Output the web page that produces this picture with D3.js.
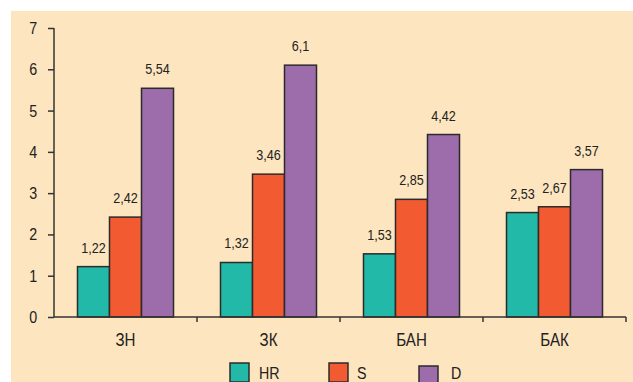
<!DOCTYPE html>
<html>
<head>
<meta charset="utf-8">
<script src="https://cdn.jsdelivr.net/npm/d3@7"></script>
<style>
  body { margin: 0; background: #fff; }
  svg text {
    font-family: "Liberation Sans", Arial, sans-serif; fill: #222;
    transform-box: fill-box; transform-origin: center; transform: scaleX(0.84);
  }
  .axis path, .axis line { stroke: #333; stroke-width: 1.5; }
</style>
</head>
<body>
<script>
// data
var categories = ["ЗН", "ЗК", "БАН", "БАК"];
var seriesNames = ["HR", "S", "D"];
var hr = [1.22, 1.32, 1.53, 2.53];
var s = [2.42, 3.46, 2.85, 2.67];
var d = [5.54, 6.1, 4.42, 3.57];
var yTicks = [0, 1, 2, 3, 4, 5, 6, 7];
var colors = ["#22b9a9", "#f25a31", "#9d6cab"];

var series = [hr, s, d];

var svg = d3.select("body").append("svg")
    .attr("width", 633)
    .attr("height", 382);

// beige panel
svg.append("rect")
    .attr("x", 11).attr("y", 11)
    .attr("width", 622).attr("height", 371)
    .attr("fill", "#fde5bf");

var margin = {top: 28, left: 54, right: 7, bottom: 65};
var width = 633 - margin.left - margin.right,
    height = 382 - margin.top - margin.bottom;

var x = d3.scaleBand().domain(categories).range([0, width]);
var x1 = d3.scaleBand().domain(seriesNames).range([0, 96]);
var y = d3.scaleLinear().domain([0, 7]).range([height, 0]);

var g = svg.append("g")
    .attr("transform", "translate(" + margin.left + "," + margin.top + ")");

var groups = g.selectAll(".grp")
    .data(categories)
    .enter().append("g")
    .attr("class", "grp")
    .attr("transform", function(c) {
        return "translate(" + (x(c) + (x.bandwidth() - 96) / 2) + ",0)";
    });

seriesNames.forEach(function(name, k) {
    groups.append("rect")
        .attr("x", x1(name))
        .attr("width", x1.bandwidth())
        .attr("y", function(c, i) { return y(series[k][i]); })
        .attr("height", function(c, i) { return height - y(series[k][i]); })
        .attr("fill", colors[k])
        .attr("stroke", "#2b2b2b")
        .attr("stroke-width", 1.5);

    groups.append("text")
        .attr("x", x1(name) + x1.bandwidth() / 2)
        .attr("y", function(c, i) { return y(series[k][i]) - 14; })
        .attr("text-anchor", "middle")
        .style("font-size", "15px")
        .text(function(c, i) { return String(series[k][i]).replace(".", ","); });
});

g.append("g")
    .attr("class", "y axis")
    .call(d3.axisLeft(y).tickValues(yTicks).tickSize(6).tickPadding(10).tickFormat(d3.format("d")))
    .call(function(a) { a.selectAll("text").style("font-size", "17px"); a.select(".domain").attr("d", "M0," + height + "V0"); });

var xa = g.append("g")
    .attr("class", "x axis")
    .attr("transform", "translate(0," + height + ")")
    .call(d3.axisBottom(x).tickSize(0).tickPadding(16));
xa.select(".domain").attr("d", "M0,0H" + width);
xa.selectAll("text").style("font-size", "18px");
// category separators
xa.selectAll(".sep")
    .data(categories)
    .enter().append("line")
    .attr("x1", function(c) { return x(c) + x.bandwidth(); })
    .attr("x2", function(c) { return x(c) + x.bandwidth(); })
    .attr("y1", 0).attr("y2", 5)
    .attr("stroke", "#333").attr("stroke-width", 1.5);

// legend
var legendX = [230, 329, 419];
var legendY = [363, 363, 366];
var lg = svg.selectAll(".lg")
    .data(seriesNames)
    .enter().append("g")
    .attr("transform", function(n, i) { return "translate(" + legendX[i] + "," + legendY[i] + ")"; });
lg.append("rect")
    .attr("width", 19).attr("height", 19)
    .attr("fill", function(n, i) { return colors[i]; })
    .attr("stroke", "#2b2b2b").attr("stroke-width", 1.5);
lg.append("text")
    .attr("x", function(n, i) { return i === 2 ? 31 : 27; })
    .attr("y", function(n, i) { return i === 2 ? 13 : 16; })
    .style("font-size", "17px")
    .text(function(n) { return n; });
</script>
</body>
</html>
